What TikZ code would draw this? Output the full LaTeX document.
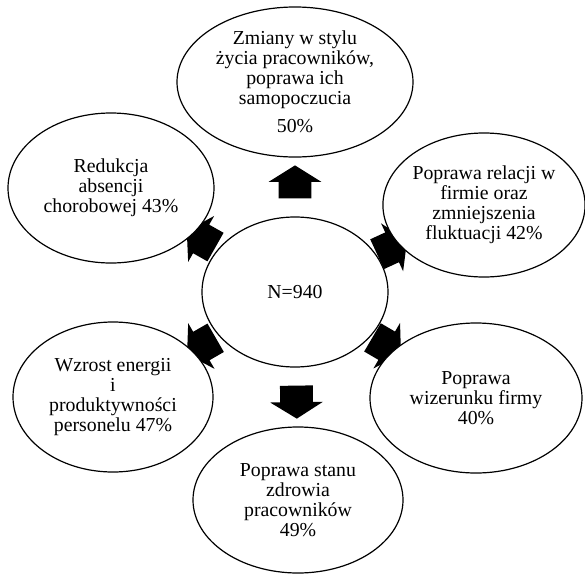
\documentclass[tikz,border=0pt]{standalone}
\usepackage{fontspec}
\setmainfont{Liberation Serif}
\usetikzlibrary{shapes.geometric,shapes.arrows,backgrounds}

\begin{document}
\begin{tikzpicture}[
		x=0.5pt,
		y=-0.5pt,
		every node/.style={
				font=\fontsize{9.9}{10}\selectfont
			},
		oval/.style={
				draw,
				ellipse,
				fill=white,
				line width=0.6pt,
				inner sep=0pt,
				align=center
			},
		blockarr/.style={
				single arrow,
				fill=black,
				inner xsep=0pt,
				inner ysep=8pt,
				minimum height=16.5pt,
				minimum width=26pt,
				single arrow head extend=5pt,
				single arrow tip angle=116,
				midway,
				sloped,
				allow upside down
			}
	]
	\useasboundingbox (0,0) rectangle (585,574);
	\node[oval, minimum width=93pt, minimum height=75pt] (c) at (295,292) {N=940};
	\node[oval, minimum width=118pt, minimum height=75pt] (zmiany) at (295,82)
	{Zmiany w stylu\\ życia pracowników,\\ poprawa ich\\ samopoczucia\\[4pt] 50\%};
	\node[oval, minimum width=100pt, minimum height=72pt] (relacje) at (484,205)
	{Poprawa relacji w\\ firmie oraz\\ zmniejszenia\\ fluktuacji 42\%};
	\node[oval, minimum width=106pt, minimum height=75pt] (wizerunek) at (476,398)
	{Poprawa\\ wizerunku firmy\\ 40\%};
	\node[oval, minimum width=105pt, minimum height=73pt] (zdrowie) at (298,500)
	{Poprawa stanu\\ zdrowia\\ pracowników\\ 49\%};
	\node[oval, minimum width=100pt, minimum height=75pt] (energia) at (113,397)
	{Wzrost energii\\ i\\ produktywności\\ personelu 47\%};
	\node[oval, minimum width=103pt, minimum height=75pt] (absencja) at (111,188)
	{Redukcja\\ absencji\\ chorobowej 43\%};
	% strzalki pod elipsami
	\begin{scope}[on background layer]
		\foreach \cel in {zmiany, relacje, wizerunek, zdrowie, energia, absencja}
			\path (c) -- (\cel) node[blockarr] {};
	\end{scope}
\end{tikzpicture}
\end{document}
